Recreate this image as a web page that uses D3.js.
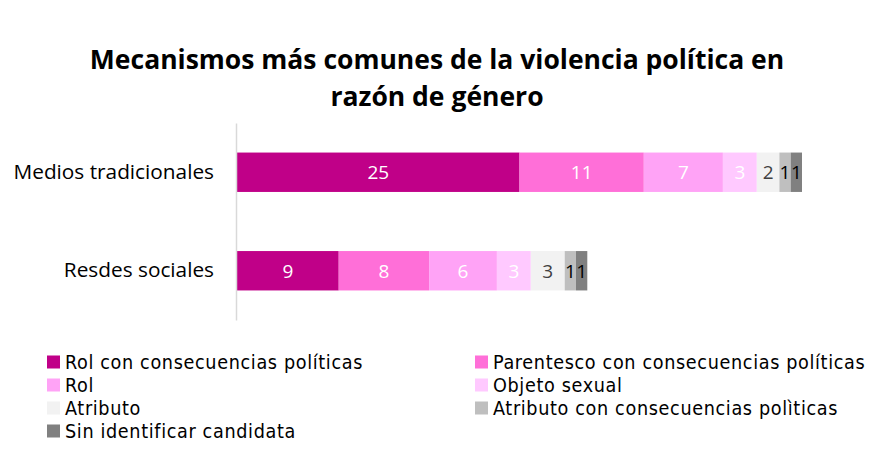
<!DOCTYPE html>
<html><head><meta charset="utf-8">
<script src="https://cdn.jsdelivr.net/npm/d3@7"></script>
<style>body{margin:0;background:#fff}svg{display:block}text{font-family:"Open Sans","Liberation Sans",sans-serif}</style>
</head><body><svg id="c" width="871" height="458"></svg>
<script>
const categories = ["Medios tradicionales", "Resdes sociales"];
const seriesNames = ["Rol con consecuencias políticas","Parentesco con consecuencias políticas","Rol","Objeto sexual","Atributo","Atributo con consecuencias polìticas","Sin identificar candidata"];
const mediosValues = [25, 11, 7, 3, 2, 1, 1];
const redesValues = [9, 8, 6, 3, 3, 1, 1];
const colors = ["#C00088","#FF6FD8","#FFA3F6","#FFC9FF","#F2F2F2","#BFBFBF","#808080"];
const labelColors = ["#fff","#fff","#fff","#fff","#404040","#000","#000"];

const svg = d3.select("#c");
const values = [mediosValues, redesValues];
const x = d3.scaleLinear().domain([0, 50]).range([237, 802]);
const y = d3.scaleBand().domain(categories).range([123, 320]).paddingInner(0.6).paddingOuter(0.3);

svg.append("text").attr("x",437).attr("y",69).attr("text-anchor","middle").attr("font-size",26.5).attr("font-weight","bold").attr("fill","#000").text("Mecanismos más comunes de la violencia política en");
svg.append("text").attr("x",437).attr("y",106).attr("text-anchor","middle").attr("font-size",26.5).attr("font-weight","bold").attr("fill","#000").text("razón de género");

categories.forEach((cat,i)=>{
  let acc = 0;
  values[i].forEach((v,j)=>{
    const x0 = x(acc), x1 = x(acc+v);
    svg.append("rect").attr("x",x0).attr("y",y(cat)).attr("width",x1-x0).attr("height",y.bandwidth()).attr("fill",colors[j]);
    svg.append("text").attr("x",(x0+x1)/2).attr("y",y(cat)+y.bandwidth()/2).attr("dy","0.36em").attr("text-anchor","middle").attr("font-size",19).attr("fill",labelColors[j]).text(v);
    acc += v;
  });
});

const yAxis = d3.axisLeft(y).tickSize(0).tickPadding(22);
const g = svg.append("g").attr("transform","translate(236,0)").call(yAxis);
g.select(".domain").attr("stroke","#d9d9d9").attr("stroke-width",1.5);
g.selectAll("text").attr("font-size",20.8).attr("fill","#000").style("font-family",'"Open Sans","Liberation Sans",sans-serif');

const legX = [47, 475], legY0 = 362, legDy = 23;
const legFont = '"DejaVu Sans Condensed",sans-serif';
seriesNames.forEach((n,i)=>{
  const lx = legX[i%2], ly = legY0 + Math.floor(i/2)*legDy;
  svg.append("rect").attr("x",lx).attr("y",ly-6.5).attr("width",13).attr("height",13).attr("fill",colors[i]);
  svg.append("text").attr("x",lx+18).attr("y",ly).attr("dy","0.36em").attr("font-size",19.6).attr("letter-spacing","0.65px").attr("fill","#000").style("font-family",legFont).text(n);
});
</script></body></html>
